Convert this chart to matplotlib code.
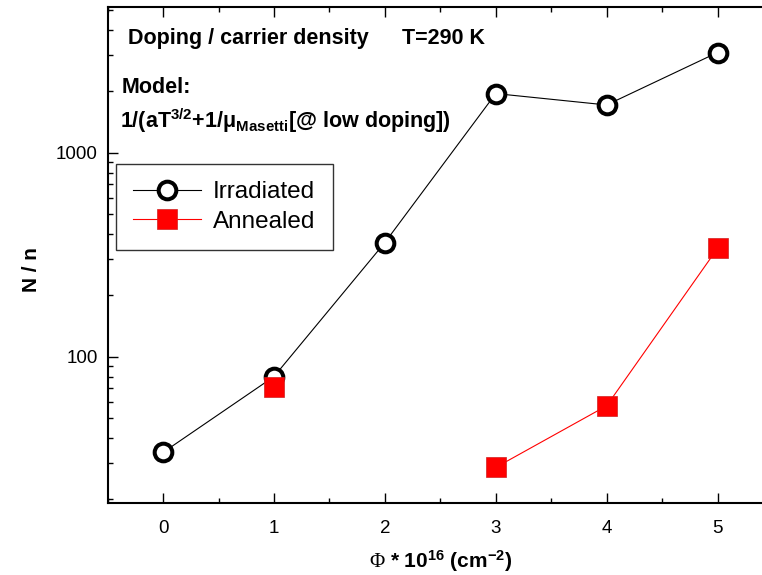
import numpy as np
import matplotlib
matplotlib.use("Agg")
import matplotlib.pyplot as plt
from matplotlib.ticker import FixedLocator, LogLocator, NullFormatter

# fluence (1e16 cm^-2) and N/n ratios; no annealed sample at 2e16
fluence = [0, 1, 2, 3, 4, 5]
irradiated = [34, 80, 363, 1950, 1715, 3100]
annealed = [71.5, np.nan, 28.7, 57.5, 340]
fluence_ann = [1, 2, 3, 4, 5]

xticks = [0, 1, 2, 3, 4, 5]
yticks = [100, 1000]
ytick_labels = ["100", "1000"]

plt.rcParams["font.family"] = ["Liberation Sans", "DejaVu Sans"]
plt.rcParams["mathtext.fontset"] = "custom"
plt.rcParams["mathtext.default"] = "regular"
plt.rcParams["mathtext.rm"] = "Liberation Sans:bold"
plt.rcParams["mathtext.it"] = "Liberation Sans:bold"
plt.rcParams["mathtext.bf"] = "Liberation Sans:bold"
plt.rcParams["mathtext.sf"] = "Liberation Serif"

fig = plt.figure(figsize=(7.62, 5.75), dpi=100)
ax = fig.add_axes([0.1413, 0.1252, 0.8731, 0.8626])

ax.plot(fluence, irradiated, color="black", lw=0.8, marker="o", ms=12.7,
        mew=2.9, mec="black", mfc="white", label="Irradiated", zorder=3)
ax.plot(fluence_ann, annealed, color="red", lw=0.8, marker="s", ms=15,
        mew=0.5, mec="#d02020", mfc="red", label="Annealed", zorder=4)

ax.set_yscale("log")
ax.set_xlim(-0.5, 5.5)
ax.set_ylim(19.2, 5180)

ax.xaxis.set_major_locator(FixedLocator(xticks))
ax.xaxis.set_minor_locator(FixedLocator(np.arange(-0.5, 5.6, 1.0)))
ax.set_xticklabels([str(t) for t in xticks])
ax.yaxis.set_major_locator(FixedLocator(yticks))
ax.set_yticklabels(ytick_labels)
ax.yaxis.set_minor_locator(LogLocator(base=10, subs=np.arange(2, 10)))
ax.yaxis.set_minor_formatter(NullFormatter())

for s in ax.spines.values():
    s.set_linewidth(1.5)
ax.tick_params(which="both", direction="in", top=True, right=True, width=1.0)
ax.tick_params(which="major", length=7, labelsize=13.5)
ax.tick_params(which="minor", length=3.5)
ax.tick_params(axis="x", which="major", pad=12)
ax.tick_params(axis="y", which="major", pad=7)

ax.set_ylabel("N / n", fontsize=15, fontweight="bold")
ax.yaxis.set_label_coords(-0.1, 0.47)
ax.set_xlabel(r"$\mathsf{\Phi}$ * 10$^{16}$ (cm$^{-2}$)", fontsize=15,
              fontweight="bold", labelpad=8)

ax.text(0.0305, 0.9375, "Doping / carrier density", transform=ax.transAxes,
        fontsize=15.5, fontweight="bold", va="center", ha="left")
ax.text(0.4425, 0.9375, "T=290 K", transform=ax.transAxes,
        fontsize=15.5, fontweight="bold", va="center", ha="left")
ax.text(0.0215, 0.837, "Model:", transform=ax.transAxes,
        fontsize=15.5, fontweight="bold", va="center", ha="left")
ax.text(0.018, 0.756, r"1/(aT$^{3/2}$+1/$\mu_{Masetti}$[@ low doping])",
        transform=ax.transAxes, fontsize=15.5, fontweight="bold",
        va="baseline", ha="left")

leg = ax.legend(loc="upper left", bbox_to_anchor=(0.0125, 0.683),
                borderaxespad=0, fontsize=17.5, frameon=True, fancybox=False,
                edgecolor="black", handlelength=2.8, handletextpad=0.5,
                borderpad=0.7, labelspacing=0.3)
leg.get_frame().set_linewidth(1.0)

fig.savefig("out.png", dpi=100)
